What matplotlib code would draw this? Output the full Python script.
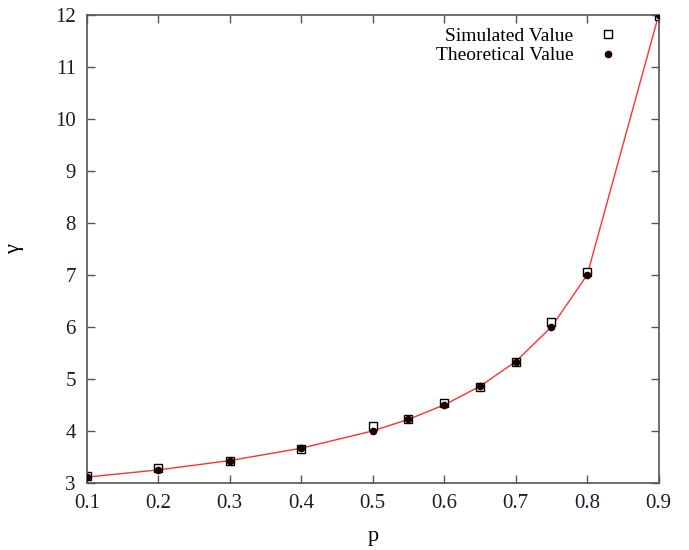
import matplotlib
matplotlib.use("Agg")
import matplotlib.pyplot as plt

p_values = [0.1, 0.2, 0.3, 0.4, 0.5, 0.55, 0.6, 0.65, 0.7, 0.75, 0.8, 0.9]
theoretical = [3.111, 3.25, 3.429, 3.667, 4.0, 4.222, 4.5, 4.857, 5.333, 6.0, 7.0, 12.0]
simulated = [3.13, 3.28, 3.42, 3.66, 4.09, 4.23, 4.53, 4.84, 5.33, 6.09, 7.05, 11.98]
x_ticks = [0.1, 0.2, 0.3, 0.4, 0.5, 0.6, 0.7, 0.8, 0.9]
y_ticks = [3, 4, 5, 6, 7, 8, 9, 10, 11, 12]

plt.rcParams['font.family'] = ['Liberation Serif', 'DejaVu Serif']

fig = plt.figure(figsize=(6.89, 5.5), dpi=100)
ax = fig.add_axes([0.126, 0.122, 0.83, 0.851])

ax.plot(p_values, theoretical, color='#ff3030', lw=1.0, zorder=1)
ax.plot(p_values, simulated, ls='none', marker='s', ms=5.5, mfc='white',
        mec='black', mew=1.0, label='Simulated Value', zorder=2)
ax.plot(p_values, theoretical, ls='none', marker='o', ms=4.5, mfc='#1a0000',
        mec='#1a0000', label='Theoretical Value', zorder=3)

ax.set_xlim(0.1, 0.9)
ax.set_ylim(3, 12)
ax.set_xticks(x_ticks)
ax.set_yticks(y_ticks)
ax.set_xticklabels([f"{v:.1f}" for v in x_ticks])
ax.set_yticklabels([str(v) for v in y_ticks])
ax.tick_params(direction='in', top=True, right=True, length=6, width=1,
               color='#555555', labelsize=15, labelcolor='#1a1a30', pad=8)
for s in ax.spines.values():
    s.set_color('#555555')
    s.set_linewidth(1.2)

ax.set_xlabel('p', fontsize=16, labelpad=10)
ax.set_ylabel('γ', fontsize=16, rotation=90, labelpad=22)

leg = ax.legend(loc='upper right', frameon=False, markerfirst=False,
                fontsize=14, handlelength=1.5, borderaxespad=0.6,
                labelspacing=0.1, handletextpad=1.0, bbox_to_anchor=(0.97, 1.015))
for t in leg.get_texts():
    t.set_ha('right')

fig.savefig('out.png', dpi=100)
